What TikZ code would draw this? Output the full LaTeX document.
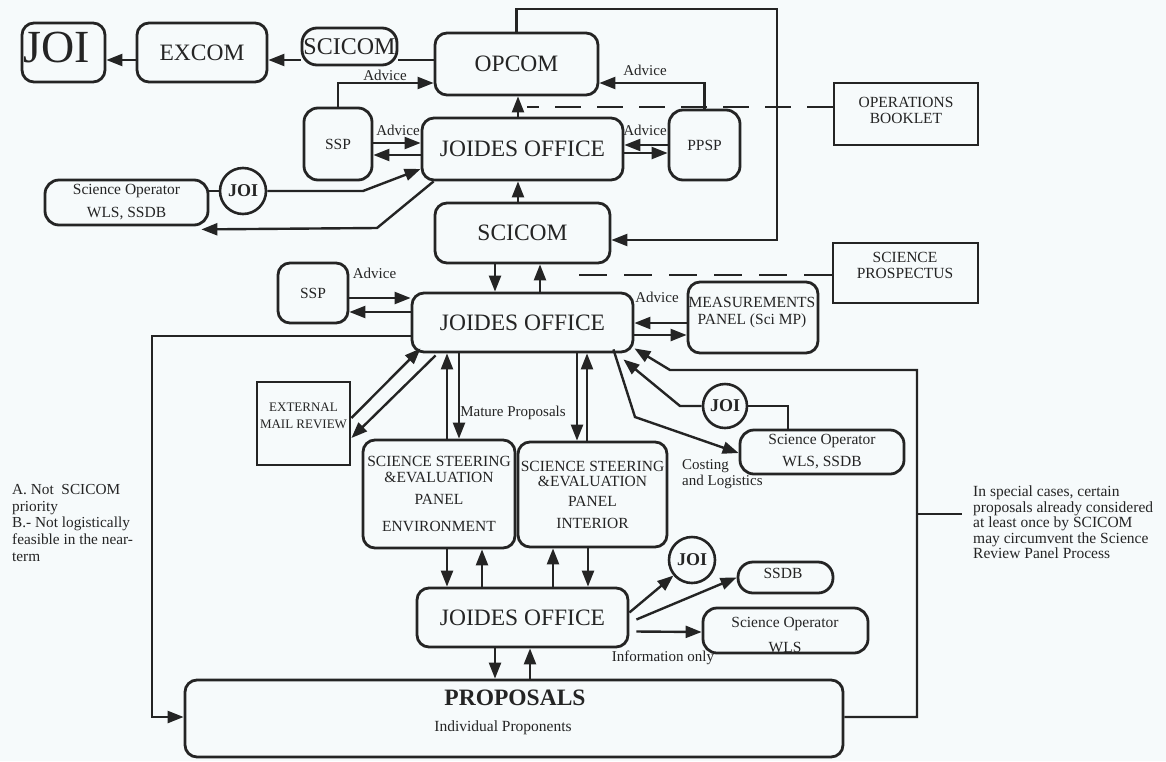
\documentclass[tikz,border=0pt]{standalone}
\usepackage{fontspec}
\setmainfont{Liberation Serif}
\usetikzlibrary{arrows.meta,calc}

\definecolor{ink}{RGB}{36,36,36}
\definecolor{paper}{RGB}{246,250,251}

\tikzset{
  box/.style={draw=ink, line width=2.8pt, rounded corners=12pt, inner sep=0pt, text=ink, align=center},
  sqbox/.style={draw=ink, line width=2.8pt, inner sep=0pt, text=ink, align=center},
  pill/.style={box, rounded corners=15pt},
  ring/.style={draw=ink, line width=2.6pt, circle, inner sep=0pt, text=ink,
    font=\fontsize{18}{18}\selectfont\bfseries},
  arr/.style={draw=ink, line width=2.4pt, -{Triangle[length=16pt,width=12pt]}},
  link/.style={draw=ink, line width=2.4pt},
  dashlink/.style={draw=ink, line width=2.6pt, dash pattern=on 26pt off 16pt},
  big/.style={font=\fontsize{23.5}{26}\selectfont},
  small/.style={font=\fontsize{15.5}{16}\selectfont},
  lbl/.style={text=ink, inner sep=0pt, font=\fontsize{15}{16}\selectfont},
}

\begin{document}
\begin{tikzpicture}[x=1pt,y=-1pt]
\fill[paper] (0,0) rectangle (1166,761);
\useasboundingbox (0,0) rectangle (1166,761);

% ---------- top row: JOI, EXCOM, SCICOM, OPCOM ----------
\node[box, minimum width=83pt, minimum height=59pt] (joiBig) at (63.5,52.5) {};
\node[text=ink, inner sep=0pt, font=\fontsize{46}{46}\selectfont] (joiBigTxt) at (57,47) {JOI};
\node[box, big, minimum width=130pt, minimum height=59pt] (excom) at (202,52.5) {EXCOM};
\node[pill, minimum width=95pt, minimum height=37pt, font=\fontsize{24}{24}\selectfont] (scicomTop) at (349.5,46.5) {SCICOM};
\node[box, big, minimum width=163pt, minimum height=62pt] (opcom) at (516.5,64) {OPCOM};

% ---------- upper level ----------
\node[box, big, minimum width=201pt, minimum height=62pt] (joidesTop) at (522.5,149) {JOIDES OFFICE};
\node[box, small, rounded corners=14pt, minimum width=68pt, minimum height=72pt] (sspTop) at (338,144) {SSP};
\node[box, small, rounded corners=14pt, minimum width=71pt, minimum height=70pt] (ppsp) at (704.5,145) {PPSP};
\node[sqbox, minimum width=144pt, minimum height=62pt] (opsBook) at (906,114) {};
\node[lbl, align=center, font=\fontsize{15.5}{16}\selectfont] (opsBookTxt) at (906,110) {OPERATIONS\\BOOKLET};
\node[box, small, rounded corners=14pt, minimum width=163pt, minimum height=45pt] (sciOpTop) at (126.5,202.5) {Science Operator\\[7pt]WLS, SSDB};
\node[ring, minimum size=46pt] (joiTop) at (243,191) {JOI};

% ---------- SCICOM level ----------
\node[box, big, minimum width=175pt, minimum height=60pt] (scicomMid) at (522.5,233) {SCICOM};
\node[sqbox, minimum width=145pt, minimum height=60pt] (sciProsp) at (905.5,273) {};
\node[lbl, align=center, font=\fontsize{15.5}{16}\selectfont] (sciProspTxt) at (905,265) {SCIENCE\\PROSPECTUS};

% ---------- middle level ----------
\node[box, big, minimum width=221pt, minimum height=59pt] (joidesMid) at (522.5,322.5) {JOIDES OFFICE};
\node[box, small, minimum width=70pt, minimum height=60pt] (sspMid) at (313,293) {SSP};
\node[box, minimum width=130pt, minimum height=71pt] (measPanel) at (753,317.5) {};
\node[lbl, align=center, font=\fontsize{15.5}{17}\selectfont] (measPanelTxt) at (752,313) {MEASUREMENTS\\PANEL (Sci MP)};
\node[sqbox, minimum width=93pt, minimum height=83pt] (emr) at (303.5,423.5) {};
\node[lbl, align=center, font=\fontsize{13}{17}\selectfont] (emrTxt) at (303.5,416) {EXTERNAL\\MAIL REVIEW};
\node[ring, minimum size=44pt] (joiMid) at (725,406) {JOI};
\node[box, small, rounded corners=14pt, minimum width=164pt, minimum height=44pt] (sciOpMid) at (822,452) {Science Operator\\[6pt]WLS, SSDB};

% ---------- panels ----------
\node[box, small, minimum width=152pt, minimum height=108pt] (ssepEnv) at (439,494)
  {SCIENCE STEERING\\\&EVALUATION\\[6pt]PANEL\\[11pt]ENVIRONMENT};
\node[box, small, minimum width=149pt, minimum height=105pt] (ssepInt) at (592.5,494.5)
  {SCIENCE STEERING\\[-1pt]\&EVALUATION\\[4pt]PANEL\\[6pt]INTERIOR};

% ---------- lower level ----------
\node[box, big, minimum width=211pt, minimum height=59pt] (joidesBot) at (522.5,617.5) {JOIDES OFFICE};
\node[ring, minimum size=46pt] (joiBot) at (692,560) {JOI};
\node[pill, minimum width=95pt, minimum height=31pt] (ssdb) at (785.5,577.5) {};
\node[lbl, font=\fontsize{15.5}{16}\selectfont] (ssdbTxt) at (783,573) {SSDB};
\node[box, rounded corners=14pt, minimum width=165pt, minimum height=45pt] (sciOpBot) at (785.5,630.5) {};
\node[lbl, align=center, font=\fontsize{15.5}{16}\selectfont] (sciOpBotTxt) at (785,634.5) {Science Operator\\[9pt]WLS};

\node[box, minimum width=658pt, minimum height=77pt] (proposals) at (514,718.5) {};
\node[text=ink, inner sep=0pt, font=\fontsize{23.5}{24}\selectfont\bfseries] (propTitle) at (515,698) {PROPOSALS};
\node[lbl, font=\fontsize{15.5}{16}\selectfont] (propSub) at (503,728) {Individual Proponents};

% ---------- labels ----------
\node[lbl] (advA) at (385,75) {Advice};
\node[lbl] (advB) at (398,130) {Advice};
\node[lbl] (advC) at (645,70) {Advice};
\node[lbl] (advD) at (645,130) {Advice};
\node[lbl] (advE) at (374.5,273) {Advice};
\node[lbl] (advF) at (657,297) {Advice};
\node[lbl] (mature) at (513,413) {Mature Proposals};
\node[lbl, align=left, anchor=west] (costing) at (682,474) {Costing\\and Logistics};
\node[lbl] (infoOnly) at (663,658) {Information only};

\node[lbl, align=left, anchor=north west, font=\fontsize{15.3}{16.7}\selectfont] (noteL) at (12,484)
  {A.\ Not\ \ SCICOM\\priority\\B.- Not logistically\\feasible in the near-\\term};
\node[lbl, align=left, anchor=north west, font=\fontsize{15.5}{15.5}\selectfont] (noteR) at (973,486)
  {In special cases, certain\\proposals already considered\\at least once by SCICOM\\may circumvent the Science\\Review Panel Process};

% ---------- connectors: top row ----------
\draw[arr] (scicomTop.west |- 0,60) -- (excom.east |- 0,60);
\draw[arr] (excom.west |- 0,60) -- (joiBig.east |- 0,60);
\draw[link] (opcom.west |- 0,60) -- (scicomTop.east |- 0,60);
\draw[arr] (sspTop.north) |- (opcom.west |- 0,83);
\draw[arr] (ppsp.north) |- (opcom.east |- 0,83);
\draw[arr] (opcom.north) -- (opcom.north |- 0,9) -- (777,9) -- (777,240) -- (scicomMid.east |- 0,240);

% vertical flow between levels
\draw[arr] (joidesTop.north -| 518,0) -- (opcom.south -| 518,0);
\draw[arr] (scicomMid.north -| 518,0) -- (joidesTop.south -| 518,0);
\draw[arr] (scicomMid.south -| 495,0) -- (joidesMid.north -| 495,0);
\draw[arr] (joidesMid.north -| 540,0) -- (scicomMid.south -| 540,0);

% dashed links to the publications
\coordinate (dashTop) at (527,107);
\coordinate (dashMid) at (570,275);
\draw[dashlink] (opsBook.west |- 0,107) -- (dashTop);
\draw[dashlink, dash pattern=on 28pt off 17pt] (sciProsp.west |- 0,275) -- (dashMid);

% upper JOIDES office exchanges
\draw[arr] (sspTop.east |- 0,143) -- (joidesTop.west |- 0,143);
\draw[arr] (joidesTop.west |- 0,155) -- (sspTop.east |- 0,155);
\draw[arr] (ppsp.west |- 0,145) -- (joidesTop.east |- 0,145);
\draw[arr] (joidesTop.east |- 0,153) -- (ppsp.west |- 0,153);
\draw[link] (sciOpTop.east |- 0,191) -- (joiTop.west);
\draw[arr] (joiTop.east) -- (363,191) -- (joidesTop.west |- 0,169);
\draw[arr] ($(joidesTop.south west)+(13,0)$) -- (377,228) -- ($(sciOpTop.south east)+(-8,3)$);

% middle JOIDES office exchanges
\draw[arr] (sspMid.east |- 0,298) -- (joidesMid.west |- 0,298);
\draw[arr] (joidesMid.west |- 0,312) -- (sspMid.east |- 0,312);
\draw[arr] (measPanel.west |- 0,323) -- (joidesMid.east |- 0,323);
\draw[arr] (joidesMid.east |- 0,335) -- (measPanel.west |- 0,335);
\draw[arr] (joidesMid.west |- 0,336) -- (152,336) -- (152,717) -- (proposals.west |- 0,717);
\draw[arr] (proposals.east |- 0,717) -- (917,717) -- (917,370) -- (670,370) -- ($(joidesMid.south east)+(0,-5)$);
\coordinate (noteStub) at (917,514);
\draw[link] (noteStub) -- ++(45,0);
\draw[arr] (emr.east |- 0,418) -- ($(joidesMid.south west)+(10,-5)$);
\draw[arr] ($(joidesMid.south west)+(25,2)$) -- (emr.east |- 0,438);
\draw[arr] (ssepEnv.north -| 447,0) -- (joidesMid.south -| 447,0);
\draw[arr] (joidesMid.south -| 459,0) -- (ssepEnv.north -| 459,0);
\draw[arr] (joidesMid.south -| 577,0) -- (ssepInt.north -| 577,0);
\draw[arr] (ssepInt.north -| 587,0) -- (joidesMid.south -| 587,0);
\draw[arr] (joiMid.west) -- (680,406) -- ($(joidesMid.south east)+(-11,6)$);
\draw[link] (joiMid.east) -- (788,406) -- (sciOpMid.north -| 788,0);
\draw[arr] ($(joidesMid.south east)+(-21,-4)$) -- (635,417) -- (sciOpMid.west |- 0,453);

% panels to lower JOIDES office
\draw[arr] (ssepEnv.south -| 447,0) -- (joidesBot.north -| 447,0);
\draw[arr] (joidesBot.north -| 482,0) -- (ssepEnv.south -| 482,0);
\draw[arr] (joidesBot.north -| 553,0) -- (ssepInt.south -| 553,0);
\draw[arr] (ssepInt.south -| 588,0) -- (joidesBot.north -| 588,0);

% lower JOIDES office
\draw[arr] (joidesBot.south -| 495,0) -- (proposals.north -| 495,0);
\draw[arr] (proposals.north -| 530,0) -- (joidesBot.south -| 530,0);
\draw[arr] ($(joidesBot.east)+(0,-5)$) -- (joiBot);
\draw[arr] ($(joidesBot.east)+(7,2)$) -- (ssdb.west);
\draw[arr] ($(joidesBot.east)+(7,14)$) -- (sciOpBot.west |- 0,632);
\end{tikzpicture}
\end{document}
